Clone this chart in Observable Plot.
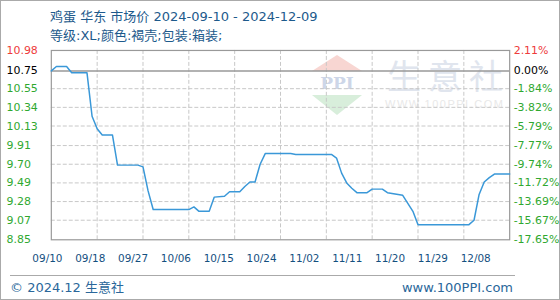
<!DOCTYPE html>
<html>
<head>
<meta charset="utf-8">
<script src="https://cdn.jsdelivr.net/npm/d3@7"></script>
<script src="https://cdn.jsdelivr.net/npm/@observablehq/plot@0.6"></script>
<style>
  html, body { margin: 0; padding: 0; background: #fff; }
  #wrap { position: relative; width: 560px; height: 300px; box-sizing: border-box; border: 1px solid #aaa; overflow: hidden; font-family: "DejaVu Sans", "Noto Sans CJK SC", sans-serif; }
  .abs { position: absolute; white-space: nowrap; line-height: 1; }
  #title { left: 49px; top: 9px; font-size: 13px; color: #1d5a8c; }
  #subtitle { left: 49px; top: 28px; font-size: 13px; color: #1d5a8c; }
  #footer-line { left: 9px; top: 274px; width: 505px; height: 0; border-top: 1px solid #aaa; }
  #copy { left: 9px; top: 280px; font-size: 13px; color: #2a679a; }
  #site { right: 46px; top: 280px; font-size: 13px; color: #2a679a; }
  #wm-text { left: 386px; top: 57px; font-size: 34px; height: 36px; color: #e0e5ee; letter-spacing: 7px; font-family: "Noto Sans CJK SC", sans-serif; }
  #wm-url { left: 384px; top: 98px; font-size: 11px; color: #e8e8e8; letter-spacing: 1.5px; font-family: "Liberation Sans", sans-serif; }
  #wm-logo { left: 308px; top: 54px; }
  #main, #xlab { position: absolute; left: 0; }
  #main { top: 40px; }
  #xlab { top: 247px; }
</style>
</head>
<body>
<div id="wrap">
  <svg id="wm-logo" class="abs" width="56" height="62" viewBox="0 0 56 62">
    <polygon points="28,0 53,16 3,16" fill="#f8d6d2"/>
    <text x="28" y="34" text-anchor="middle" font-size="17" font-family="DejaVu Serif, serif" fill="#cdd6e8" font-weight="bold">PPI</text>
    <polygon points="3,40 53,40 28,60" fill="#d8eedb"/>
  </svg>
  <div id="wm-text" class="abs">生意社</div>
  <div id="wm-url" class="abs">WWW.100PPI.COM</div>
  <div id="title" class="abs">鸡蛋 华东 市场价 2024-09-10 - 2024-12-09</div>
  <div id="subtitle" class="abs">等级:XL;颜色:褐壳;包装:箱装;</div>
  <div id="main"></div>
  <div id="xlab"></div>
  <div id="footer-line" class="abs"></div>
  <div id="copy" class="abs">© 2024.12 生意社</div>
  <div id="site" class="abs">www.100PPI.com</div>
</div>
<script>
// ---- data ----
const dates = [
  "2024-09-10","2024-09-11","2024-09-13","2024-09-14","2024-09-17","2024-09-18",
  "2024-09-19","2024-09-20","2024-09-22","2024-09-23","2024-09-27","2024-09-28",
  "2024-09-29","2024-09-30","2024-10-07","2024-10-08","2024-10-09","2024-10-11",
  "2024-10-12","2024-10-14","2024-10-15","2024-10-17","2024-10-18","2024-10-19",
  "2024-10-20","2024-10-21","2024-10-22","2024-10-27","2024-10-28","2024-11-04",
  "2024-11-05","2024-11-06","2024-11-07","2024-11-08","2024-11-09","2024-11-11",
  "2024-11-12","2024-11-14","2024-11-15","2024-11-18","2024-11-19","2024-11-20",
  "2024-11-21","2024-12-01","2024-12-02","2024-12-03","2024-12-04","2024-12-05",
  "2024-12-06","2024-12-09"
];
const prices = [
  10.75, 10.80, 10.80, 10.73, 10.73, 10.24,
  10.10, 10.03, 10.03, 9.69, 9.69, 9.67,
  9.40, 9.19, 9.19, 9.22, 9.17, 9.17,
  9.33, 9.34, 9.39, 9.39, 9.45, 9.50,
  9.50, 9.70, 9.82, 9.82, 9.81, 9.81,
  9.77, 9.60, 9.49, 9.43, 9.38, 9.38,
  9.42, 9.42, 9.38, 9.35, 9.26, 9.17,
  9.02, 9.02, 9.07, 9.36, 9.50, 9.55,
  9.59, 9.59
];
const basePrice = 10.75;
const yTicks = [10.98, 10.75, 10.55, 10.34, 10.13, 9.91, 9.70, 9.49, 9.28, 9.07, 8.85];
const pctLabels = ["2.11%", "0.00%", "-1.84%", "-3.82%", "-5.79%", "-7.77%", "-9.74%", "-11.72%", "-13.69%", "-15.67%", "-17.65%"];
const xDomain = ["2024-09-10", "2024-12-09"];
const xGrid = ["2024-09-19","2024-09-28","2024-10-07","2024-10-16","2024-10-25","2024-11-03","2024-11-12","2024-11-21","2024-11-30"];
const xLabels = ["09/10","09/18","09/27","10/06","10/15","10/24","11/02","11/11","11/20","11/29","12/08"];

// ---- build ----
const parse = d3.utcParse("%Y-%m-%d");
const series = dates.map((d, i) => ({date: parse(d), value: prices[i]}));
const fmt = d => d.toFixed(2);
const pctOf = v => pctLabels[yTicks.indexOf(v)];
const topTick = [yTicks[0]];
const baseTick = [basePrice];
const restTicks = yTicks.slice(2);
const gridY = yTicks.slice(2, -1);
const red = "#ee3b3b", green = "#2fa82f", black = "#000";
const axisCommon = {tickSize: 0, label: null, fontSize: 11};

const main = Plot.plot({
  width: 560,
  height: 205,
  marginTop: 9,
  marginBottom: 6,
  marginLeft: 50,
  marginRight: 50,
  style: {background: "transparent", fontFamily: "DejaVu Sans, sans-serif", fontSize: "11px"},
  x: {type: "utc", domain: xDomain.map(parse), axis: null},
  y: {domain: [yTicks[yTicks.length - 1], yTicks[0]], axis: null},
  marks: [
    Plot.ruleY(gridY, {stroke: "#c8c8c8", strokeDasharray: "4,2"}),
    Plot.ruleX(xGrid.map(parse), {stroke: "#c8c8c8", strokeDasharray: "4,2"}),
    Plot.ruleY(baseTick, {stroke: "#999", strokeWidth: 1.5}),
    Plot.frame({stroke: "#999", strokeWidth: 1.2}),
    Plot.line(series, {x: "date", y: "value", stroke: "#3a98d8", strokeWidth: 1.5}),
    Plot.axisY(topTick, {...axisCommon, anchor: "left", tickPadding: 45, textAnchor: "start", fill: red, tickFormat: fmt}),
    Plot.axisY(baseTick, {...axisCommon, anchor: "left", tickPadding: 45, textAnchor: "start", fill: black, tickFormat: fmt}),
    Plot.axisY(restTicks, {...axisCommon, anchor: "left", tickPadding: 45, textAnchor: "start", fill: green, tickFormat: fmt}),
    Plot.axisY(topTick, {...axisCommon, anchor: "right", tickPadding: 4, textAnchor: "start", fill: red, tickFormat: pctOf}),
    Plot.axisY([yTicks[1]], {...axisCommon, anchor: "right", tickPadding: 4, textAnchor: "start", fill: black, tickFormat: pctOf}),
    Plot.axisY(restTicks, {...axisCommon, anchor: "right", tickPadding: 4, textAnchor: "start", fill: green, tickFormat: pctOf})
  ]
});
document.getElementById("main").appendChild(main);

const xlab = Plot.plot({
  width: 560,
  height: 20,
  margin: 0,
  marginLeft: 46,
  marginRight: 84,
  style: {background: "transparent", fontFamily: "DejaVu Sans, sans-serif"},
  x: {type: "point", domain: xLabels, padding: 0, axis: null},
  marks: [
    Plot.text(xLabels, {x: d => d, frameAnchor: "middle", fill: "#14507f", fontSize: 10.5})
  ]
});
document.getElementById("xlab").appendChild(xlab);
</script>
</body>
</html>
